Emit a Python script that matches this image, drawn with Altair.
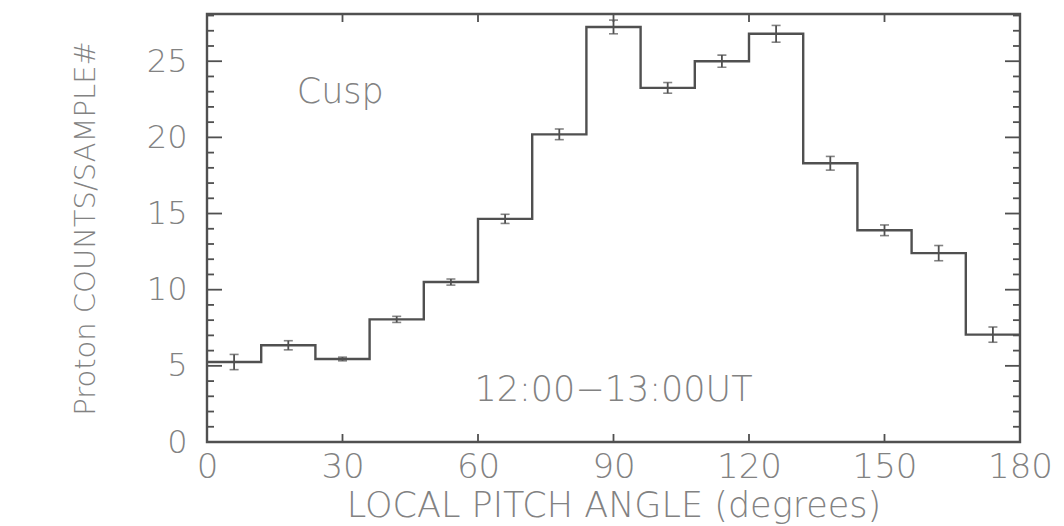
import altair as alt
import pandas as pd

# Data
bin_edges = [0, 12, 24, 36, 48, 60, 72, 84, 96, 108, 120, 132, 144, 156, 168, 180]
counts = [5.25, 6.35, 5.45, 8.05, 10.5, 14.65, 20.2, 27.25, 23.25, 25.0, 26.8, 18.3, 13.9, 12.4, 7.05]
errors = [0.5, 0.3, 0.12, 0.2, 0.2, 0.3, 0.35, 0.45, 0.35, 0.4, 0.55, 0.45, 0.35, 0.5, 0.5]
x_ticks = [30, 60, 90, 120, 150]
y_major = [5, 10, 15, 20, 25]
y_minor = [v for v in range(1, 29) if v % 5 != 0]
annotations = ["Cusp", "12:00\u221213:00UT"]
annot_x = [29.5, 90]
annot_y = [23.0, 3.4]

W, H = 813, 428
LINE = "#505050"
TEXT = "#828282"
FONT = "DejaVu Sans"

xscale = alt.Scale(domain=[0, 180], nice=False, zero=False)
yscale = alt.Scale(domain=[0, 28.1], nice=False)

step_df = pd.DataFrame({"x": bin_edges, "y": counts + [counts[-1]]})
centers = [(a + b) / 2 for a, b in zip(bin_edges[:-1], bin_edges[1:])]
err_df = pd.DataFrame({
    "x": centers,
    "lo": [c - e for c, e in zip(counts, errors)],
    "hi": [c + e for c, e in zip(counts, errors)],
})

base_x = alt.X("x:Q", scale=xscale,
               axis=alt.Axis(values=[0, 30, 60, 90, 120, 150, 180], ticks=False, domain=False,
                             grid=False, labelPadding=8, labelFlush=False, labelOverlap=False,
                             title="LOCAL PITCH ANGLE (degrees)", titlePadding=4,
                             labelFontSize=34, titleFontSize=35))
base_y = alt.Y("y:Q", scale=yscale,
               axis=alt.Axis(values=[0, 5, 10, 15, 20, 25], ticks=False, domain=False,
                             grid=False, labelPadding=20, labelFlush=False, labelOverlap=False,
                             title="Proton COUNTS/SAMPLE#", titlePadding=46,
                             labelFontSize=32, titleFontSize=29))

step = alt.Chart(step_df).mark_line(interpolate="step-after", color=LINE, strokeWidth=2.4).encode(
    x=base_x, y=base_y)

bars = alt.Chart(err_df).mark_rule(color=LINE, strokeWidth=1.8).encode(
    x=alt.X("x:Q", scale=xscale), y=alt.Y("lo:Q", scale=yscale), y2="hi:Q")
cap_lo = alt.Chart(err_df).mark_tick(color=LINE, orient="horizontal", size=9, thickness=1.6).encode(
    x=alt.X("x:Q", scale=xscale), y=alt.Y("lo:Q", scale=yscale))
cap_hi = alt.Chart(err_df).mark_tick(color=LINE, orient="horizontal", size=9, thickness=1.6).encode(
    x=alt.X("x:Q", scale=xscale), y=alt.Y("hi:Q", scale=yscale))

ymaj_df = pd.DataFrame({"v": y_major})
ymin_df = pd.DataFrame({"v": y_minor})
xt_df = pd.DataFrame({"v": x_ticks})


def yticks(df, x0, x1):
    return alt.Chart(df).mark_rule(color=LINE, strokeWidth=1.8).encode(
        y=alt.Y("v:Q", scale=yscale), x=alt.value(x0), x2=alt.value(x1))


def xticks(y0, y1):
    return alt.Chart(xt_df).mark_rule(color=LINE, strokeWidth=1.8).encode(
        x=alt.X("v:Q", scale=xscale), y=alt.value(y0), y2=alt.value(y1))


ticks = [
    yticks(ymaj_df, 0, 15), yticks(ymin_df, 0, 7),
    yticks(ymaj_df, W, W - 15), yticks(ymin_df, W, W - 7),
    xticks(H, H - 8), xticks(0, 8),
]

ann_df = pd.DataFrame({"t": annotations, "x": annot_x, "y": annot_y})
ann = alt.Chart(ann_df).mark_text(font=FONT, fontSize=35, fontWeight=300, color=TEXT, align="center",
                                  baseline="middle").encode(
    x=alt.X("x:Q", scale=xscale), y=alt.Y("y:Q", scale=yscale), text="t:N")

chart = alt.layer(step, bars, cap_lo, cap_hi, *ticks, ann).properties(
    width=W, height=H,
    background="white",
    autosize=alt.AutoSizeParams(type="none"),
    padding={"left": 207, "top": 14, "right": 44, "bottom": 84},
).configure_view(stroke=LINE, strokeWidth=2.4).configure_axis(
    labelFont=FONT, labelColor=TEXT, labelFontWeight=300,
    titleFont=FONT, titleColor=TEXT, titleFontWeight=300,
)

chart.save("out.html", embed_options={"renderer": "svg", "actions": False})
